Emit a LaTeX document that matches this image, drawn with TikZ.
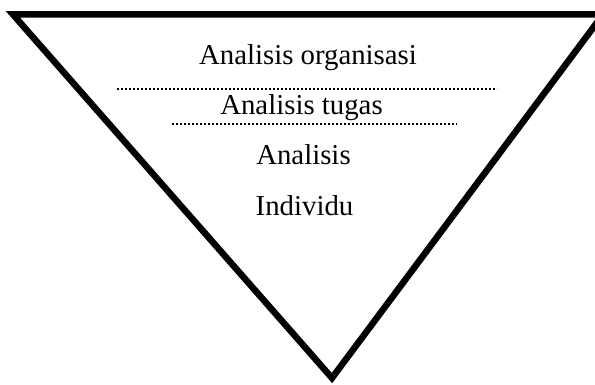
\documentclass[tikz,border=0pt]{standalone}
\usepackage{fontspec}
\setmainfont{Liberation Serif}
\begin{document}
\begin{tikzpicture}[x=1pt, y=-1pt,
    tier/.style={font=\fontsize{28.8}{34}\selectfont, anchor=base, inner sep=0pt},
    divider/.style={line width=2pt, dash pattern=on 2pt off 2pt}]
    \useasboundingbox (0,0) rectangle (595,385);
    \clip (0,0) rectangle (595,385);

    % Inverted triangle
    \draw[line width=6.5pt, miter limit=10] (13,14.5) -- (603,14.5) -- (332,378) -- cycle;

    % Levels of analysis
    \node[tier] (org) at (308,65) {Analisis organisasi};
    \node[tier] (task) at (301.5,115) {Analisis tugas};
    \node[tier] (ana) at (303.5,165) {Analisis};
    \node[tier] (ind) at (304.5,215) {Individu};

    % Dotted dividers
    \draw[divider] (117,89) -- (497,89);
    \draw[divider] (172,124) -- (457,124);
\end{tikzpicture}
\end{document}
